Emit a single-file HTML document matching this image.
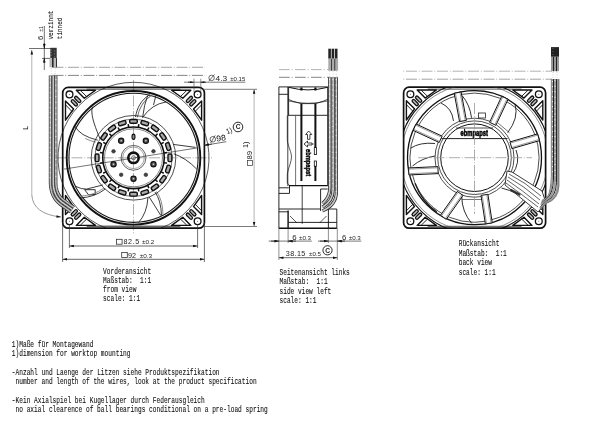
<!DOCTYPE html><html><head><meta charset="utf-8"><style>
html,body{margin:0;padding:0;background:#fff;width:600px;height:425px;overflow:hidden}
svg{display:block;will-change:transform}
text{font-family:"Liberation Mono",monospace;fill:#111;stroke:#111;stroke-width:0.1px}
.s{font-family:"Liberation Sans",sans-serif;stroke-width:0;fill:#222}
</style></head><body>
<svg width="600" height="425" viewBox="0 0 600 425">
<defs>
<g id="corner">
  <circle cx="6.8" cy="7" r="3.4" fill="none" stroke="#111" stroke-width="1.3"/>
  <circle cx="6.8" cy="7" r="0.5" fill="#555"/>
  <polygon points="13.6,2.8 32.8,2.8 21.6,10.9" fill="none" stroke="#111" stroke-width="1.4" stroke-linejoin="round"/>
  <line x1="17.6" y1="3" x2="24.2" y2="9.4" stroke="#111" stroke-width="0.9"/>
  <polygon points="2.8,13.6 2.8,32.8 10.9,21.6" fill="none" stroke="#111" stroke-width="1.4" stroke-linejoin="round"/>
  <line x1="3" y1="17.6" x2="9.4" y2="24.2" stroke="#111" stroke-width="0.9"/>
  <rect x="-3.8" y="-1.4" width="7.6" height="2.8" rx="1.4" transform="translate(15,12) rotate(45)" fill="#bbb" stroke="#111" stroke-width="1.3"/>
  <rect x="-3.8" y="-1.4" width="7.6" height="2.8" rx="1.4" transform="translate(11.6,15.4) rotate(45)" fill="#bbb" stroke="#111" stroke-width="1.3"/>
</g>
<marker id="ar2" viewBox="0 0 6 4" refX="6" refY="2" markerWidth="4" markerHeight="2.4" orient="auto-start-reverse" markerUnits="userSpaceOnUse"><path d="M0,0.3 L6,2 L0,3.7z" fill="#111"/></marker>
<marker id="ar" viewBox="0 0 6 4" refX="6" refY="2" markerWidth="5" markerHeight="3" orient="auto-start-reverse" markerUnits="userSpaceOnUse"><path d="M0,0.3 L6,2 L0,3.7z" fill="#111"/></marker>
</defs>
<rect width="600" height="425" fill="#fff"/>
<line x1="56" y1="157.8" x2="212" y2="157.8" stroke="#999" stroke-width="0.8" stroke-dasharray="11,1.8,0.9,1.8" stroke-dashoffset="0"/>
<line x1="133.5" y1="80" x2="133.5" y2="234" stroke="#999" stroke-width="0.8" stroke-dasharray="11,1.8,0.9,1.8" stroke-dashoffset="0"/>
<line x1="52.5" y1="67.3" x2="205" y2="67.3" stroke="#999" stroke-width="0.9" stroke-dasharray="11,1.8,0.9,1.8" stroke-dashoffset="0"/>
<line x1="52.5" y1="75.4" x2="205" y2="75.4" stroke="#777" stroke-width="0.9" stroke-dasharray="11,1.8,0.9,1.8" stroke-dashoffset="0"/>
<path d="M106.44,228.29 A75.5,75.5 0 1 1 160.56,228.29" fill="none" stroke="#222" stroke-width="0.75"/>
<rect x="62.7" y="87.4" width="141.7" height="140.8" rx="5.5" fill="none" stroke="#111" stroke-width="1.7"/>
<line x1="86.7" y1="89.2" x2="180.4" y2="89.2" stroke="#222" stroke-width="0.8" />
<line x1="86.7" y1="226.2" x2="180.4" y2="226.2" stroke="#222" stroke-width="1.0" />
<use href="#corner" transform="translate(62.7,87.4)"/>
<use href="#corner" transform="translate(204.4,87.4) scale(-1,1)"/>
<use href="#corner" transform="translate(62.7,228.2) scale(1,-1)"/>
<use href="#corner" transform="translate(204.4,228.2) scale(-1,-1)"/>
<circle cx="133.5" cy="157.8" r="66.8" fill="none" stroke="#111" stroke-width="1.9"/>
<circle cx="133.5" cy="157.8" r="64.6" fill="none" stroke="#1a1a1a" stroke-width="1.1"/>
<g fill="none" stroke="#1a1a1a" stroke-width="0.85">
<path d="M135.5,117 C137,108 141,100 149.7,94.6"/>
<path d="M137.3,117.3 C139,108.5 143,101 151.3,95.4" stroke="#777" stroke-width="1.1"/>
<path d="M142.6,117.5 Q144,105 147.6,95.8"/>
<path d="M155.9,95.5 L153.5,105"/>
<path d="M142.6,117.5 Q152,104 166,102"/>
<path d="M173.2,144.4 L195.5,147.4"/>
<path d="M173.8,153.8 Q186,158 196.7,169.1"/>
<path d="M147.9,198 Q147,213 138.5,222.7"/>
<path d="M149.1,196.8 L160.9,215.6"/>
<path d="M155,192.1 Q161,200 161.5,215.6"/>
<path d="M156.5,191.5 Q162.8,200 163,215" stroke="#777"/>
<path d="M75.2,186.2 Q82,189.5 86.4,189.1 L102.8,185"/>
<path d="M84.6,189.7 L95.2,189.7 L95.2,194.4 L88.7,195 Z" stroke-width="0.9"/>
<path d="M80.5,198 Q95,197 105.2,189.1"/>
<path d="M79.5,196.3 Q94,195.5 104,188" stroke="#777"/>
<path d="M64,169.1 L196.7,148" stroke-width="0.6"/>
<path d="M85.2,138.5 Q90,141 95.8,142" stroke="#777"/>
<path d="M92.5,106.7 C90.5,113 93,122 100.1,139"/>
<path d="M74.8,126.1 Q80,136 97.8,140.2"/>
</g>
<circle cx="133.5" cy="157.8" r="42.3" fill="none" stroke="#222" stroke-width="0.8"/>
<circle cx="133.5" cy="157.8" r="38.6" fill="none" stroke="#333" stroke-width="0.7"/>
<rect x="-3.8" y="-1.9" width="7.6" height="3.8" rx="1.3" transform="translate(133.5,121.4) rotate(0)" fill="#aaa" stroke="#111" stroke-width="1.4"/>
<line x1="138.82" y1="124.22" x2="138.35" y2="127.18" stroke="#111" stroke-width="1.5" />
<rect x="-3.8" y="-1.9" width="7.6" height="3.8" rx="1.3" transform="translate(144.75,123.18) rotate(18)" fill="#aaa" stroke="#111" stroke-width="1.4"/>
<line x1="148.94" y1="127.51" x2="147.57" y2="130.18" stroke="#111" stroke-width="1.5" />
<rect x="-3.8" y="-1.9" width="7.6" height="3.8" rx="1.3" transform="translate(154.9,128.35) rotate(36)" fill="#aaa" stroke="#111" stroke-width="1.4"/>
<line x1="157.54" y1="133.76" x2="155.42" y2="135.88" stroke="#111" stroke-width="1.5" />
<rect x="-3.8" y="-1.9" width="7.6" height="3.8" rx="1.3" transform="translate(162.95,136.4) rotate(54)" fill="#aaa" stroke="#111" stroke-width="1.4"/>
<line x1="163.79" y1="142.36" x2="161.12" y2="143.73" stroke="#111" stroke-width="1.5" />
<rect x="-3.8" y="-1.9" width="7.6" height="3.8" rx="1.3" transform="translate(168.12,146.55) rotate(72)" fill="#aaa" stroke="#111" stroke-width="1.4"/>
<line x1="167.08" y1="152.48" x2="164.12" y2="152.95" stroke="#111" stroke-width="1.5" />
<rect x="-3.8" y="-1.9" width="7.6" height="3.8" rx="1.3" transform="translate(169.9,157.8) rotate(90)" fill="#aaa" stroke="#111" stroke-width="1.4"/>
<line x1="167.08" y1="163.12" x2="164.12" y2="162.65" stroke="#111" stroke-width="1.5" />
<rect x="-3.8" y="-1.9" width="7.6" height="3.8" rx="1.3" transform="translate(168.12,169.05) rotate(108)" fill="#aaa" stroke="#111" stroke-width="1.4"/>
<line x1="163.79" y1="173.24" x2="161.12" y2="171.87" stroke="#111" stroke-width="1.5" />
<rect x="-3.8" y="-1.9" width="7.6" height="3.8" rx="1.3" transform="translate(162.95,179.2) rotate(126)" fill="#aaa" stroke="#111" stroke-width="1.4"/>
<line x1="157.54" y1="181.84" x2="155.42" y2="179.72" stroke="#111" stroke-width="1.5" />
<rect x="-3.8" y="-1.9" width="7.6" height="3.8" rx="1.3" transform="translate(154.9,187.25) rotate(144)" fill="#aaa" stroke="#111" stroke-width="1.4"/>
<line x1="148.94" y1="188.09" x2="147.57" y2="185.42" stroke="#111" stroke-width="1.5" />
<rect x="-3.8" y="-1.9" width="7.6" height="3.8" rx="1.3" transform="translate(144.75,192.42) rotate(162)" fill="#aaa" stroke="#111" stroke-width="1.4"/>
<line x1="138.82" y1="191.38" x2="138.35" y2="188.42" stroke="#111" stroke-width="1.5" />
<rect x="-3.8" y="-1.9" width="7.6" height="3.8" rx="1.3" transform="translate(133.5,194.2) rotate(180)" fill="#aaa" stroke="#111" stroke-width="1.4"/>
<line x1="128.18" y1="191.38" x2="128.65" y2="188.42" stroke="#111" stroke-width="1.5" />
<rect x="-3.8" y="-1.9" width="7.6" height="3.8" rx="1.3" transform="translate(122.25,192.42) rotate(198)" fill="#aaa" stroke="#111" stroke-width="1.4"/>
<line x1="118.06" y1="188.09" x2="119.43" y2="185.42" stroke="#111" stroke-width="1.5" />
<rect x="-3.8" y="-1.9" width="7.6" height="3.8" rx="1.3" transform="translate(112.1,187.25) rotate(216)" fill="#aaa" stroke="#111" stroke-width="1.4"/>
<line x1="109.46" y1="181.84" x2="111.58" y2="179.72" stroke="#111" stroke-width="1.5" />
<rect x="-3.8" y="-1.9" width="7.6" height="3.8" rx="1.3" transform="translate(104.05,179.2) rotate(234)" fill="#aaa" stroke="#111" stroke-width="1.4"/>
<line x1="103.21" y1="173.24" x2="105.88" y2="171.87" stroke="#111" stroke-width="1.5" />
<rect x="-3.8" y="-1.9" width="7.6" height="3.8" rx="1.3" transform="translate(98.88,169.05) rotate(252)" fill="#aaa" stroke="#111" stroke-width="1.4"/>
<line x1="99.92" y1="163.12" x2="102.88" y2="162.65" stroke="#111" stroke-width="1.5" />
<rect x="-3.8" y="-1.9" width="7.6" height="3.8" rx="1.3" transform="translate(97.1,157.8) rotate(270)" fill="#aaa" stroke="#111" stroke-width="1.4"/>
<line x1="99.92" y1="152.48" x2="102.88" y2="152.95" stroke="#111" stroke-width="1.5" />
<rect x="-3.8" y="-1.9" width="7.6" height="3.8" rx="1.3" transform="translate(98.88,146.55) rotate(288)" fill="#aaa" stroke="#111" stroke-width="1.4"/>
<line x1="103.21" y1="142.36" x2="105.88" y2="143.73" stroke="#111" stroke-width="1.5" />
<rect x="-3.8" y="-1.9" width="7.6" height="3.8" rx="1.3" transform="translate(104.05,136.4) rotate(306)" fill="#aaa" stroke="#111" stroke-width="1.4"/>
<line x1="109.46" y1="133.76" x2="111.58" y2="135.88" stroke="#111" stroke-width="1.5" />
<rect x="-3.8" y="-1.9" width="7.6" height="3.8" rx="1.3" transform="translate(112.1,128.35) rotate(324)" fill="#aaa" stroke="#111" stroke-width="1.4"/>
<line x1="118.06" y1="127.51" x2="119.43" y2="130.18" stroke="#111" stroke-width="1.5" />
<rect x="-3.8" y="-1.9" width="7.6" height="3.8" rx="1.3" transform="translate(122.25,123.18) rotate(342)" fill="#aaa" stroke="#111" stroke-width="1.4"/>
<line x1="128.18" y1="124.22" x2="128.65" y2="127.18" stroke="#111" stroke-width="1.5" />
<circle cx="133.5" cy="157.8" r="30.8" fill="none" stroke="#111" stroke-width="1.6"/>
<circle cx="133.5" cy="157.8" r="29" fill="none" stroke="#333" stroke-width="0.6"/>
<ellipse cx="133.5" cy="136.8" rx="1.5" ry="2.7" fill="#888" stroke="#111" stroke-width="1.1"/>
<circle cx="145.84" cy="140.81" r="2.6" fill="#555" stroke="#111" stroke-width="1.2"/><circle cx="145.84" cy="140.81" r="0.8" fill="#ddd"/>
<circle cx="153.47" cy="151.31" r="1.8" fill="#444" stroke="#222" stroke-width="0.6"/>
<circle cx="153.47" cy="164.29" r="2.6" fill="#555" stroke="#111" stroke-width="1.2"/><circle cx="153.47" cy="164.29" r="0.8" fill="#ddd"/>
<circle cx="145.84" cy="174.79" r="1.8" fill="#444" stroke="#222" stroke-width="0.6"/>
<circle cx="133.5" cy="178.8" r="2.6" fill="#555" stroke="#111" stroke-width="1.2"/><circle cx="133.5" cy="178.8" r="0.8" fill="#ddd"/>
<circle cx="121.16" cy="174.79" r="1.8" fill="#444" stroke="#222" stroke-width="0.6"/>
<circle cx="113.53" cy="164.29" r="2.6" fill="#555" stroke="#111" stroke-width="1.2"/><circle cx="113.53" cy="164.29" r="0.8" fill="#ddd"/>
<circle cx="113.53" cy="151.31" r="1.8" fill="#444" stroke="#222" stroke-width="0.6"/>
<circle cx="121.16" cy="140.81" r="2.6" fill="#555" stroke="#111" stroke-width="1.2"/><circle cx="121.16" cy="140.81" r="0.8" fill="#ddd"/>
<circle cx="133.5" cy="157.8" r="12.4" fill="none" stroke="#222" stroke-width="0.7"/>
<circle cx="133.5" cy="157.8" r="10.8" fill="none" stroke="#444" stroke-width="0.5"/>
<circle cx="133.5" cy="157.8" r="5.2" fill="none" stroke="#111" stroke-width="2.6"/>
<circle cx="133.5" cy="157.8" r="2" fill="none" stroke="#555" stroke-width="0.8"/>
<g fill="none">
<path d="M50.30,75.40 L50.30,130.00 L50.30,183.01 L50.42,185.07 L50.63,186.97 L50.92,188.80 L51.30,190.57 L51.77,192.28 L52.34,193.92 L53.00,195.50 L53.75,197.01 L54.60,198.44 L55.54,199.80 L56.58,201.08 L57.71,202.28 L58.93,203.39 L60.24,204.43 L70.76,211.94" stroke="#333" stroke-width="3"/>
<path d="M53.20,75.40 L53.20,130.00 L53.20,183.00 L53.31,184.83 L53.50,186.58 L53.77,188.27 L54.12,189.88 L54.54,191.42 L55.05,192.89 L55.63,194.29 L56.30,195.62 L57.04,196.88 L57.86,198.06 L58.76,199.17 L59.74,200.21 L60.80,201.18 L61.94,202.08 L72.44,209.58" stroke="#333" stroke-width="3"/>
<path d="M55.90,75.40 L55.90,130.00 L55.90,182.99 L56.00,184.60 L56.18,186.23 L56.42,187.77 L56.74,189.24 L57.12,190.62 L57.57,191.93 L58.09,193.17 L58.67,194.33 L59.31,195.42 L60.02,196.44 L60.80,197.40 L61.64,198.29 L62.55,199.13 L63.52,199.89 L74.01,207.38" stroke="#333" stroke-width="3"/>
<path d="M50.30,75.40 L50.30,130.00 L50.30,183.01 L50.42,185.07 L50.63,186.97 L50.92,188.80 L51.30,190.57 L51.77,192.28 L52.34,193.92 L53.00,195.50 L53.75,197.01 L54.60,198.44 L55.54,199.80 L56.58,201.08 L57.71,202.28 L58.93,203.39 L60.24,204.43 L70.76,211.94" stroke="#bdbdbd" stroke-width="1.5"/>
<path d="M53.20,75.40 L53.20,130.00 L53.20,183.00 L53.31,184.83 L53.50,186.58 L53.77,188.27 L54.12,189.88 L54.54,191.42 L55.05,192.89 L55.63,194.29 L56.30,195.62 L57.04,196.88 L57.86,198.06 L58.76,199.17 L59.74,200.21 L60.80,201.18 L61.94,202.08 L72.44,209.58" stroke="#d0d0d0" stroke-width="1.5"/>
<path d="M55.90,75.40 L55.90,130.00 L55.90,182.99 L56.00,184.60 L56.18,186.23 L56.42,187.77 L56.74,189.24 L57.12,190.62 L57.57,191.93 L58.09,193.17 L58.67,194.33 L59.31,195.42 L60.02,196.44 L60.80,197.40 L61.64,198.29 L62.55,199.13 L63.52,199.89 L74.01,207.38" stroke="#bdbdbd" stroke-width="1.5"/>
<path d="M50.3,77 V182" stroke="#fff" stroke-width="0.8" stroke-dasharray="1.2,3.8"/>
<path d="M55.9,79 V182" stroke="#fff" stroke-width="0.8" stroke-dasharray="1.2,4.5"/>
</g>
<g>
<rect x="50.3" y="47.8" width="6.4" height="10.6" fill="#333"/>
<line x1="51" y1="49.5" x2="51" y2="57.5" stroke="#ccc" stroke-width="0.7" stroke-dasharray="1,1.6"/>
<line x1="54.6" y1="50.5" x2="54.6" y2="57.5" stroke="#aaa" stroke-width="0.7" stroke-dasharray="1,2"/>
<rect x="49.5" y="58.4" width="3" height="8.9" fill="#b8b8b8"/>
<rect x="52" y="58" width="1.8" height="9.3" fill="#2a2a2a"/>
<rect x="53.8" y="58" width="2.2" height="9.3" fill="#b8b8b8"/>
<rect x="56" y="58" width="1" height="9.3" fill="#333"/>
<line x1="51.3" y1="68" x2="51.3" y2="75" stroke="#bbb" stroke-width="0.6" stroke-dasharray="1,1.5"/><line x1="55.2" y1="68" x2="55.2" y2="75" stroke="#bbb" stroke-width="0.6" stroke-dasharray="1,1.5"/>
</g>
<line x1="29" y1="48.5" x2="56" y2="48.5" stroke="#333" stroke-width="0.7" />
<line x1="31.8" y1="50" x2="31.8" y2="195" stroke="#aaa" stroke-width="0.9" marker-start="url(#ar)"/>
<path d="M31.8,195 Q33,214 61,217" fill="none" stroke="#555" stroke-width="0.6" marker-end="url(#ar)"/>
<line x1="44.3" y1="26" x2="44.3" y2="70" stroke="#333" stroke-width="0.7" />
<line x1="42" y1="58.4" x2="50" y2="58.4" stroke="#333" stroke-width="0.7" />
<path d="M44.3,43 L44.3,48.5" stroke="#111" stroke-width="0.7" marker-end="url(#ar)"/>
<path d="M44.3,63 L44.3,58" stroke="#111" stroke-width="0.7" marker-end="url(#ar)"/>
<text x="0" y="0" font-size="7" transform="translate(28,130) rotate(-90)">L</text>
<text class="s" font-size="7.6" transform="translate(42.8,39.9) rotate(-90)">6</text>
<text class="s" font-size="5.2" transform="translate(42.5,31.8) rotate(-90)">±1</text>
<text font-size="7.5" textLength="29" lengthAdjust="spacingAndGlyphs" transform="translate(53,39.5) rotate(-90)">verzinnt</text>
<text font-size="7.5" textLength="21.5" lengthAdjust="spacingAndGlyphs" transform="translate(61.5,39.2) rotate(-90)">tinned</text>
<line x1="69.4" y1="224" x2="69.4" y2="248" stroke="#333" stroke-width="0.7" />
<line x1="197.6" y1="224" x2="197.6" y2="248" stroke="#333" stroke-width="0.7" />
<line x1="62.6" y1="222" x2="62.6" y2="262" stroke="#333" stroke-width="0.7" />
<line x1="204.4" y1="222" x2="204.4" y2="262" stroke="#333" stroke-width="0.7" />
<line x1="69.4" y1="246" x2="197.6" y2="246" stroke="#555" stroke-width="0.9" marker-start="url(#ar)" marker-end="url(#ar)"/>
<line x1="62.6" y1="259.3" x2="204.4" y2="259.3" stroke="#555" stroke-width="0.9" marker-start="url(#ar)" marker-end="url(#ar)"/>
<rect x="116.5" y="239.3" width="5.6" height="4.9" fill="none" stroke="#333" stroke-width="0.8"/>
<text class="s" font-size="7.2" textLength="15.8" lengthAdjust="spacing" x="123.4" y="244.4">82.5</text>
<text class="s" font-size="5.4" textLength="12.3" lengthAdjust="spacingAndGlyphs" x="142" y="244.4">±0.2</text>
<rect x="121.7" y="252.5" width="5.6" height="4.9" fill="none" stroke="#333" stroke-width="0.8"/>
<text class="s" font-size="7.2" textLength="8" lengthAdjust="spacing" x="127.9" y="257.6">92</text>
<text class="s" font-size="5.4" textLength="12.3" lengthAdjust="spacingAndGlyphs" x="139.8" y="257.6">±0.3</text>
<line x1="194" y1="78.7" x2="194" y2="92" stroke="#444" stroke-width="0.6" />
<line x1="200.8" y1="78.7" x2="200.8" y2="92" stroke="#444" stroke-width="0.6" />
<line x1="184" y1="82.2" x2="245.3" y2="82.2" stroke="#444" stroke-width="0.7" />
<path d="M188,82.2 L193.6,82.2" stroke="#111" stroke-width="0.7" marker-end="url(#ar2)"/>
<path d="M206,82.2 L200.8,82.2" stroke="#111" stroke-width="0.7" marker-end="url(#ar2)"/>
<g transform="translate(208.6,80.8)"><circle cx="3" cy="-2.9" r="2.75" fill="none" stroke="#222" stroke-width="0.65"/><line x1="0.2" y1="0.4" x2="6" y2="-6.4" stroke="#222" stroke-width="0.65"/><text class="s" font-size="7.8" textLength="11.6" lengthAdjust="spacingAndGlyphs" x="7" y="0">4.3</text></g>
<text class="s" font-size="5.2" textLength="15" lengthAdjust="spacingAndGlyphs" x="230.3" y="81">±0.15</text>
<line x1="203" y1="89.3" x2="257" y2="89.3" stroke="#444" stroke-width="0.7" />
<line x1="203" y1="226.5" x2="257" y2="226.5" stroke="#444" stroke-width="0.7" />
<line x1="254.1" y1="89.3" x2="254.1" y2="226.5" stroke="#aaa" stroke-width="0.9" marker-start="url(#ar)" marker-end="url(#ar)"/>
<g transform="translate(252.4,165.6) rotate(-90)"><rect x="0" y="-4.8" width="5.2" height="4.8" fill="none" stroke="#333" stroke-width="0.7"/><text class="s" font-size="7.6" textLength="8.6" lengthAdjust="spacingAndGlyphs" x="6" y="0">89</text><text class="s" font-size="7.5" textLength="6.5" lengthAdjust="spacingAndGlyphs" x="17.5" y="-4">1)</text></g>
<line x1="204" y1="145.4" x2="226.3" y2="141.7" stroke="#333" stroke-width="0.7" />
<path d="M212,144 L204.5,145.3" stroke="#111" stroke-width="0.6" marker-end="url(#ar)"/>
<g transform="translate(210.3,142.6) rotate(-9)"><circle cx="3" cy="-2.9" r="2.75" fill="none" stroke="#222" stroke-width="0.65"/><line x1="0.2" y1="0.4" x2="6" y2="-6.4" stroke="#222" stroke-width="0.65"/><text class="s" font-size="8" textLength="9.6" lengthAdjust="spacingAndGlyphs" x="6.6" y="0" style="stroke-width:0.05px">98</text></g>
<text class="s" font-size="7.5" textLength="6" lengthAdjust="spacingAndGlyphs" transform="translate(227.3,134.2) rotate(-22)">1)</text>
<circle cx="238" cy="127" r="4.8" fill="none" stroke="#111" stroke-width="0.9"/><text class="s" font-size="6.6" font-weight="bold" x="235.8" y="129.4">C</text>
<line x1="279" y1="69.6" x2="330" y2="69.6" stroke="#aaa" stroke-width="0.9" stroke-dasharray="10.7,1.9,1,2.4" stroke-dashoffset="0"/>
<line x1="279" y1="77.3" x2="330" y2="77.3" stroke="#777" stroke-width="0.9" stroke-dasharray="10.7,1.9,1,2.4" stroke-dashoffset="0"/>
<g fill="none" stroke="#111" stroke-width="0.9">
<path d="M278.9,86.9 H327.7 V186"/>
<path d="M278.9,86.9 V228.3"/>
<path d="M287.8,86.9 V186" stroke-width="0.8"/>
<path d="M278.9,94.3 H287.8"/>
<path d="M288.6,87.3 Q308,92.5 327.7,87.3" stroke-width="1"/>
<path d="M301.4,87.6 V90.6 M315.4,87.6 V90.6" stroke-width="2.2"/>
<path d="M288.6,99.5 L293,101.3 L301.4,103.6 H315.4 L323,101.3 L327.7,99.3" stroke-width="0.8"/>
<path d="M288.6,101 Q308,105.5 327.7,101" stroke-width="0.6"/>
<path d="M288.6,87.3 V115.8 M288.6,115.3 H327.7"/>
<path d="M295.6,115.8 V186" stroke-width="0.6"/>
<path d="M287.3,115.5 V140.5 C288.5,148 291.5,152 291.5,157 C291.5,162 288.5,167 287.3,174 V183 L290,186" stroke-width="0.7"/>
<path d="M301.4,103.6 V181" stroke-width="2"/>
<path d="M315.4,103.6 V148 M315.4,166 V181" stroke-width="2"/><rect x="314.3" y="147.6" width="2.2" height="7" stroke-width="0.8"/><rect x="314.3" y="161" width="2.2" height="5.2" stroke-width="0.8"/>
<path d="M288.8,185.6 H327.7" stroke-width="1.3"/>
<path d="M278.9,187.8 H288.8 M278.9,193.4 H289.5 V186"/>
<path d="M302.2,185.6 V223.8" stroke-width="0.8"/>
<path d="M320.6,189 H327.7 M320.6,189 V211"/>
<path d="M278.9,209 H320.6 M278.9,211.8 H288.1"/>
<path d="M288.1,210.4 V228.3 M278.9,228.3 H336.8" stroke-width="1.4"/>
<path d="M328.4,209 V228.3 M288.1,222.4 H328.4"/>
<path d="M290,216 L297,223 M326.5,216 L319.5,223" stroke-width="0.7"/>
<path d="M328.4,209 H336.8 V228.3 M328.4,222.4 H336.8"/>
</g>
<path d="M308.7,131 L305.6,134.5 H307.5 V139.3 H309.9 V134.5 H311.8Z" fill="none" stroke="#111" stroke-width="0.8"/>
<path d="M304,144 L307.5,141 V143 H312 V145 H307.5 V147Z" fill="none" stroke="#111" stroke-width="0.8"/><line x1="312" y1="144" x2="313.5" y2="144" stroke="#111" stroke-width="0.8"/>
<text font-size="7.4" font-weight="bold" textLength="27" lengthAdjust="spacingAndGlyphs" transform="translate(306.3,149.1) rotate(90)" style="font-family:'Liberation Sans',sans-serif;fill:#000;stroke:#000;stroke-width:0.45px">ebmpapst</text>
<g fill="none">
<path d="M329.8,77.3 V188 Q329.8,197 322.5,203.5" stroke="#222" stroke-width="3.2"/>
<path d="M329.8,77.3 V188 Q329.8,197 322.5,203.5" stroke="#c8c8c8" stroke-width="1.7"/>
<path d="M329.6,79 V188" stroke="#fff" stroke-width="0.8" stroke-dasharray="1.2,3.6"/>
<path d="M333.1,77.3 V190 Q333.1,201 322.5,207.2" stroke="#222" stroke-width="3.2"/>
<path d="M333.1,77.3 V190 Q333.1,201 322.5,207.2" stroke="#c8c8c8" stroke-width="1.7"/>
<path d="M332.9,79 V190" stroke="#fff" stroke-width="0.8" stroke-dasharray="1.2,4"/>
<path d="M336.4,77.3 V192 Q336.4,205 322.5,210.9" stroke="#222" stroke-width="3.2"/>
<path d="M336.4,77.3 V192 Q336.4,205 322.5,210.9" stroke="#c8c8c8" stroke-width="1.7"/>
<path d="M336.2,79 V192" stroke="#fff" stroke-width="0.8" stroke-dasharray="1.2,4.4"/>
</g>
<g>
<rect x="328.3" y="48.7" width="2.6" height="10" fill="#222"/>
<rect x="331.6" y="48.7" width="2.6" height="10" fill="#222"/>
<rect x="334.9" y="48.7" width="2.6" height="10" fill="#222"/>
<rect x="328.3" y="58.7" width="9.8" height="12" fill="#aaa"/>
<rect x="331.1" y="58.7" width="0.8" height="12" fill="#222"/>
<rect x="334.4" y="58.7" width="0.8" height="12" fill="#222"/>
<line x1="329.8" y1="71" x2="329.8" y2="77" stroke="#bbb" stroke-width="0.6" stroke-dasharray="1,1.5"/><line x1="333.1" y1="71" x2="333.1" y2="77" stroke="#bbb" stroke-width="0.6" stroke-dasharray="1,1.5"/><line x1="336.4" y1="71" x2="336.4" y2="77" stroke="#bbb" stroke-width="0.6" stroke-dasharray="1,1.5"/>
</g>
<line x1="278.9" y1="228" x2="278.9" y2="260" stroke="#444" stroke-width="0.6" />
<line x1="337.3" y1="228" x2="337.3" y2="260" stroke="#444" stroke-width="0.6" />
<line x1="288.1" y1="228" x2="288.1" y2="243" stroke="#444" stroke-width="0.6" />
<line x1="328.4" y1="228" x2="328.4" y2="243" stroke="#444" stroke-width="0.6" />
<line x1="268.7" y1="241.1" x2="311.8" y2="241.1" stroke="#555" stroke-width="0.8" />
<path d="M271,241.1 L278.9,241.1" stroke="#111" stroke-width="0.7" marker-end="url(#ar)"/>
<path d="M296,241.1 L288.1,241.1" stroke="#111" stroke-width="0.7" marker-end="url(#ar)"/>
<line x1="318" y1="241.1" x2="361.3" y2="241.1" stroke="#555" stroke-width="0.8" />
<path d="M320,241.1 L328.4,241.1" stroke="#111" stroke-width="0.7" marker-end="url(#ar)"/>
<path d="M345,241.1 L337.3,241.1" stroke="#111" stroke-width="0.7" marker-end="url(#ar)"/>
<line x1="278.9" y1="257.7" x2="337.3" y2="257.7" stroke="#444" stroke-width="0.8" marker-start="url(#ar)" marker-end="url(#ar)"/>
<text class="s" font-size="7.8" x="292.3" y="240">6</text><text class="s" font-size="5.4" textLength="12" lengthAdjust="spacingAndGlyphs" x="299" y="240">±0.3</text>
<text class="s" font-size="7.8" x="342" y="240">6</text><text class="s" font-size="5.4" textLength="12" lengthAdjust="spacingAndGlyphs" x="348.8" y="240">±0.3</text>
<text class="s" font-size="7.2" textLength="19.5" lengthAdjust="spacing" x="285.8" y="256">38.15</text><text class="s" font-size="5.4" textLength="12" lengthAdjust="spacingAndGlyphs" x="309" y="256">±0.5</text>
<circle cx="327.5" cy="250.3" r="4.6" fill="#fff" stroke="#111" stroke-width="0.9"/><text class="s" font-size="6.6" font-weight="bold" x="325.3" y="252.7">C</text>
<clipPath id="bclip"><rect x="403.6" y="87.2" width="142" height="141" rx="5.5"/></clipPath>
<line x1="403" y1="71.2" x2="552" y2="71.2" stroke="#aaa" stroke-width="0.9" stroke-dasharray="11,1.8,0.9,1.8" stroke-dashoffset="12.5"/>
<line x1="403" y1="79.2" x2="552" y2="79.2" stroke="#999" stroke-width="0.9" stroke-dasharray="11,1.8,0.9,1.8" stroke-dashoffset="12.5"/>
<rect x="403.6" y="87.2" width="142" height="141" rx="5.5" fill="none" stroke="#111" stroke-width="1.7"/>
<line x1="427.6" y1="89.1" x2="521.6" y2="89.1" stroke="#222" stroke-width="0.8" />
<line x1="427.6" y1="226.3" x2="521.6" y2="226.3" stroke="#222" stroke-width="0.8" />
<use href="#corner" transform="translate(403.6,87.2)"/>
<use href="#corner" transform="translate(545.6,87.2) scale(-1,1)"/>
<use href="#corner" transform="translate(403.6,228.2) scale(1,-1)"/>
<use href="#corner" transform="translate(545.6,228.2) scale(-1,-1)"/>
<g fill="none" stroke="#1a1a1a" stroke-width="0.9">
<path d="M410.6,148.2 Q420,142 435,143.5"/>
<path d="M412.5,166 Q422,158 435,156"/>
<path d="M415,183.3 Q422,202 436.7,211.7" stroke-width="1.3"/>
<path d="M461.7,196.7 Q462,212 471.7,223.3"/>
<path d="M462,199.5 L487,199.5" stroke-width="0.6"/>
<path d="M515.1,104.4 Q519,118 507.6,132.7"/>
<path d="M498.2,123.2 L509.5,132.7" stroke-width="0.6"/>
<path d="M516,150 Q521,162 512,175"/>
<path d="M462.2,95.7 Q470,105 471.5,117.8"/>
<path d="M441,103 Q452,108 453.5,121"/>
<path d="M501.5,188 Q518,192 531,203"/>
</g>
<g clip-path="url(#bclip)"><circle cx="474.5" cy="157.7" r="75.6" fill="none" stroke="#111" stroke-width="1.1"/><circle cx="474.5" cy="157.7" r="73.5" fill="none" stroke="#444" stroke-width="0.6"/></g>
<circle cx="474.5" cy="157.7" r="67" fill="none" stroke="#111" stroke-width="1.3"/>
<circle cx="474.5" cy="157.7" r="64.6" fill="none" stroke="#222" stroke-width="0.8"/>
<circle cx="474.5" cy="157.7" r="39.5" fill="#fff" stroke="#222" stroke-width="0.8"/>
<circle cx="474.5" cy="157.7" r="36.8" fill="none" stroke="#222" stroke-width="0.8"/>
<g clip-path="url(#bclip)"><polygon points="442.14,136.16 416.1,124.02 413.15,130.36 439.19,142.5" fill="#fff" stroke="#111" stroke-width="1"/>
<line x1="439.69" y1="141.41" x2="413.65" y2="129.28" stroke="#555" stroke-width="0.6"/>
<line x1="441.64" y1="137.24" x2="415.6" y2="125.11" stroke="#555" stroke-width="0.6"/>
</g>
<g clip-path="url(#bclip)"><polygon points="466.43,120.32 461.11,92 454.23,93.29 459.55,121.61" fill="#fff" stroke="#111" stroke-width="1"/>
<line x1="460.73" y1="121.39" x2="455.41" y2="93.06" stroke="#555" stroke-width="0.6"/>
<line x1="465.25" y1="120.54" x2="459.94" y2="92.22" stroke="#555" stroke-width="0.6"/>
</g>
<g clip-path="url(#bclip)"><polygon points="495.92,125.28 508.08,99.25 501.73,96.29 489.58,122.32" fill="#fff" stroke="#111" stroke-width="1"/>
<line x1="490.67" y1="122.83" x2="502.82" y2="96.8" stroke="#555" stroke-width="0.6"/>
<line x1="494.84" y1="124.77" x2="506.99" y2="98.74" stroke="#555" stroke-width="0.6"/>
</g>
<g clip-path="url(#bclip)"><polygon points="511.92,148.65 539.5,140.63 537.54,133.91 509.97,141.93" fill="#fff" stroke="#111" stroke-width="1"/>
<line x1="510.3" y1="143.08" x2="537.88" y2="135.06" stroke="#555" stroke-width="0.6"/>
<line x1="511.59" y1="147.5" x2="539.16" y2="139.48" stroke="#555" stroke-width="0.6"/>
</g>
<g clip-path="url(#bclip)"><polygon points="481,195.42 485.36,223.89 492.28,222.83 487.92,194.36" fill="#fff" stroke="#111" stroke-width="1"/>
<line x1="486.74" y1="194.54" x2="491.09" y2="223.01" stroke="#555" stroke-width="0.6"/>
<line x1="482.19" y1="195.24" x2="486.54" y2="223.7" stroke="#555" stroke-width="0.6"/>
</g>
<g clip-path="url(#bclip)"><polygon points="457.28,191.41 440.5,215.24 446.23,219.27 463,195.44" fill="#fff" stroke="#111" stroke-width="1"/>
<line x1="462.02" y1="194.75" x2="445.25" y2="218.58" stroke="#555" stroke-width="0.6"/>
<line x1="458.26" y1="192.1" x2="441.49" y2="215.93" stroke="#555" stroke-width="0.6"/>
</g>
<g clip-path="url(#bclip)"><polygon points="437.89,166.61 408.56,167.95 408.88,174.94 438.21,173.6" fill="#fff" stroke="#111" stroke-width="1"/>
<line x1="438.16" y1="172.4" x2="408.82" y2="173.74" stroke="#555" stroke-width="0.6"/>
<line x1="437.95" y1="167.81" x2="408.62" y2="169.14" stroke="#555" stroke-width="0.6"/>
</g>
<g fill="#fff" stroke="#1a1a1a" stroke-width="0.85">
<path d="M507,171 L512,172 L542,191 L546,203 L538,212 L505,185 Z"/>
</g>
<g fill="none" stroke="#222" stroke-width="0.7">
<path d="M509,174 Q525,182 541,196"/>
<path d="M508,177 Q524,186 540,200"/>
<path d="M507,180 Q522,190 539,204"/>
<path d="M506,183 Q520,193 538,207"/>
</g>
<path d="M511,190 L519.5,194.5" stroke="#333" stroke-width="2.2" stroke-linecap="round"/>
<circle cx="474.5" cy="157.7" r="33.8" fill="#fff" stroke="#111" stroke-width="1"/>
<line x1="456" y1="128" x2="493" y2="128" stroke="#222" stroke-width="0.8" />
<line x1="441.5" y1="138.6" x2="507.5" y2="138.6" stroke="#222" stroke-width="1.0" />
<rect x="478.5" y="113" width="7" height="5" fill="#fff" stroke="#222" stroke-width="0.8"/>
<text font-size="8.2" font-weight="bold" textLength="27.3" lengthAdjust="spacingAndGlyphs" x="460.6" y="135.6" style="font-family:'Liberation Sans',sans-serif;fill:#000;stroke:#000;stroke-width:0.55px">ebmpapst</text>
<line x1="474.5" y1="103" x2="474.5" y2="214" stroke="#999" stroke-width="0.8" stroke-dasharray="11,1.8,0.9,1.8" stroke-dashoffset="0"/>
<line x1="418" y1="157.7" x2="532" y2="157.7" stroke="#999" stroke-width="0.8" stroke-dasharray="11,1.8,0.9,1.8" stroke-dashoffset="0"/>
<g fill="none">
<path d="M551.35,79.1 V176.42 Q550.85,190.42 547.93,196.31 L541.89,200.42" stroke="#333" stroke-width="0.7"/>
<path d="M552.35,79.1 V177.62 Q551.85,191.62 547.73,197.22 L541.6,201.62" stroke="#999" stroke-width="1.4"/>
<path d="M553.5,79.1 V179 Q553,193 547.5,198.25 L541.25,203" stroke="#222" stroke-width="1"/>
<path d="M555,79.1 V180.8 Q554.5,194.8 547.2,199.6 L540.8,204.8" stroke="#999" stroke-width="2"/>
<path d="M556.5,79.1 V182.6 Q556,196.6 546.9,200.95 L540.35,206.6" stroke="#222" stroke-width="1"/>
<path d="M558,79.1 V184.4 Q557.5,198.4 546.6,202.3 L539.9,208.4" stroke="#999" stroke-width="2"/>
<path d="M559,79.1 V185.6 Q558.5,199.6 546.4,203.2 L539.6,209.6" stroke="#444" stroke-width="0.6"/>
<path d="M552.5,81 V176" stroke="#fff" stroke-width="0.8" stroke-dasharray="1.2,3.8"/>
<path d="M555,80 V176" stroke="#fff" stroke-width="0.8" stroke-dasharray="1.2,4.4"/>
</g>
<g>
<rect x="551" y="47.1" width="8" height="9.7" fill="#222"/>
<line x1="553" y1="48" x2="553" y2="56" stroke="#888" stroke-width="0.6" stroke-dasharray="1,2"/>
<rect x="551" y="56.8" width="8" height="14.4" fill="#999"/>
<rect x="553" y="56.8" width="1" height="14.4" fill="#222"/>
<rect x="556" y="56.8" width="1" height="14.4" fill="#222"/>
<line x1="553" y1="72" x2="553" y2="78.5" stroke="#bbb" stroke-width="0.6" stroke-dasharray="1,1.5"/><line x1="557" y1="72" x2="557" y2="78.5" stroke="#bbb" stroke-width="0.6" stroke-dasharray="1,1.5"/>
</g>
<text xml:space="preserve" font-size="8.4" font-weight="normal" textLength="48.1" lengthAdjust="spacingAndGlyphs" x="103.1" y="273.7">Vorderansicht</text>
<text xml:space="preserve" font-size="8.4" font-weight="normal" textLength="48.1" lengthAdjust="spacingAndGlyphs" x="103.1" y="282.7">Maßstab:  1:1</text>
<text xml:space="preserve" font-size="8.4" font-weight="normal" textLength="33.3" lengthAdjust="spacingAndGlyphs" x="103.1" y="291.9">from view</text>
<text xml:space="preserve" font-size="8.4" font-weight="normal" textLength="37" lengthAdjust="spacingAndGlyphs" x="103.1" y="301.4">scale: 1:1</text>
<text xml:space="preserve" font-size="8.4" font-weight="normal" textLength="70.3" lengthAdjust="spacingAndGlyphs" x="279.5" y="275.1">Seitenansicht links</text>
<text xml:space="preserve" font-size="8.4" font-weight="normal" textLength="48.1" lengthAdjust="spacingAndGlyphs" x="279.5" y="284.3">Maßstab:  1:1</text>
<text xml:space="preserve" font-size="8.4" font-weight="normal" textLength="51.8" lengthAdjust="spacingAndGlyphs" x="279.5" y="293.6">side view left</text>
<text xml:space="preserve" font-size="8.4" font-weight="normal" textLength="37" lengthAdjust="spacingAndGlyphs" x="279.5" y="302.9">scale: 1:1</text>
<text xml:space="preserve" font-size="8.4" font-weight="normal" textLength="40.7" lengthAdjust="spacingAndGlyphs" x="458.7" y="246.3">Rückansicht</text>
<text xml:space="preserve" font-size="8.4" font-weight="normal" textLength="48.1" lengthAdjust="spacingAndGlyphs" x="458.7" y="255.8">Maßstab:  1:1</text>
<text xml:space="preserve" font-size="8.4" font-weight="normal" textLength="33.3" lengthAdjust="spacingAndGlyphs" x="458.7" y="265">back view</text>
<text xml:space="preserve" font-size="8.4" font-weight="normal" textLength="37" lengthAdjust="spacingAndGlyphs" x="458.7" y="274.5">scale: 1:1</text>
<text xml:space="preserve" font-size="8.4" font-weight="normal" textLength="81.62" lengthAdjust="spacingAndGlyphs" x="11.8" y="347">1)Maße für Montagewand</text>
<text xml:space="preserve" font-size="8.4" font-weight="normal" textLength="118.72" lengthAdjust="spacingAndGlyphs" x="11.8" y="356.2">1)dimension for worktop mounting</text>
<text xml:space="preserve" font-size="8.4" font-weight="normal" textLength="207.76" lengthAdjust="spacingAndGlyphs" x="11.8" y="375.3">-Anzahl und Laenge der Litzen siehe Produktspezifikation</text>
<text xml:space="preserve" font-size="8.4" font-weight="normal" textLength="244.86" lengthAdjust="spacingAndGlyphs" x="11.8" y="384.3"> number and length of the wires, look at the product specification</text>
<text xml:space="preserve" font-size="8.4" font-weight="normal" textLength="192.92" lengthAdjust="spacingAndGlyphs" x="11.8" y="403.1">-Kein Axialspiel bei Kugellager durch Federausgleich</text>
<text xml:space="preserve" font-size="8.4" font-weight="normal" textLength="255.99" lengthAdjust="spacingAndGlyphs" x="11.8" y="412.2"> no axial clearence of ball bearings conditional on a pre-load spring</text>
</svg></body></html>
